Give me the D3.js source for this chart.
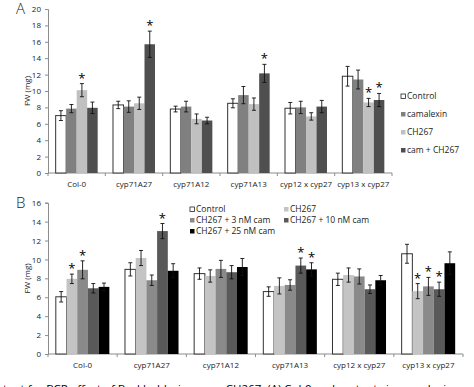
<!DOCTYPE html>
<meta charset="utf-8">
<style>
body { margin: 0; background: #fff; }
svg text { font-family: "Open Sans", "Liberation Sans", sans-serif; fill: #222; }
.axis path, .axis line { stroke: #8c8c8c; }
</style>
<svg width="474" height="387"></svg>
<script src="https://cdnjs.cloudflare.com/ajax/libs/d3/7.8.5/d3.min.js"></script>
<script>

// genotypes, same in both panels
var genotypes = ["Col-0", "cyp71A27", "cyp71A12", "cyp71A13", "cyp12 x cyp27", "cyp13 x cyp27"];

// panel A
var seriesA = ["Control", "camalexin", "CH267", "cam + CH267"];
var colorsA = ["#ffffff", "#808080", "#c0c0c0", "#4f4f4f"];
var valuesA = [
  [7.0, 8.3, 7.8, 8.5, 7.9, 11.8],
  [7.85, 8.1, 8.1, 9.5, 8.0, 11.4],
  [10.1, 8.5, 6.6, 8.4, 6.9, 8.6],
  [7.95, 15.7, 6.4, 12.15, 8.1, 8.9]
];
var errorsA = [
  [0.6, 0.45, 0.35, 0.55, 0.7, 1.2],
  [0.5, 0.7, 0.65, 1.05, 0.75, 1.15],
  [0.8, 0.75, 0.6, 0.75, 0.45, 0.5],
  [0.7, 1.6, 0.4, 1.1, 0.75, 0.8]
];
var starsA = [
  [0, 0, 0, 0, 0, 0],
  [0, 0, 0, 0, 0, 0],
  [1, 0, 0, 0, 0, 1],
  [0, 1, 0, 1, 0, 1]
];
var ticksA = [0, 2, 4, 6, 8, 10, 12, 14, 16, 18, 20];

// panel B
var seriesB = ["Control", "CH267", "CH267 + 3 nM cam", "CH267 + 10 nM cam", "CH267 + 25 nM cam"];
var colorsB = ["#ffffff", "#c4c4c4", "#8a8a8a", "#595959", "#000000"];
var valuesB = [
  [6.05, 8.95, 8.5, 6.6, 7.9, 10.6],
  [7.95, 10.15, 8.25, 7.2, 8.35, 6.65],
  [8.9, 7.8, 9.0, 7.3, 8.2, 7.15],
  [6.95, 13.0, 8.65, 9.35, 6.85, 6.85],
  [7.1, 8.8, 9.2, 8.95, 7.8, 9.6]
];
var errorsB = [
  [0.55, 0.7, 0.6, 0.5, 0.65, 1.0],
  [0.5, 0.8, 0.65, 0.85, 0.75, 0.8],
  [0.95, 0.55, 0.9, 0.55, 0.8, 0.95],
  [0.5, 0.8, 0.7, 0.8, 0.45, 0.75],
  [0.4, 0.75, 0.9, 0.7, 0.5, 1.2]
];
var starsB = [
  [0, 0, 0, 0, 0, 0],
  [1, 0, 0, 0, 0, 1],
  [1, 0, 0, 0, 0, 1],
  [0, 1, 0, 1, 0, 1],
  [0, 0, 0, 1, 0, 0]
];
var ticksB = [0, 2, 4, 6, 8, 10, 12, 14, 16];

var svg = d3.select("svg");

function panel(opt) {
  var g = svg.append("g");

  var x0 = d3.scaleBand().domain(genotypes).range([48, opt.right]);
  var x1 = d3.scaleBand().domain(opt.series).range([0, x0.bandwidth()]).paddingOuter(0.73);
  var y = d3.scaleLinear().domain(opt.domain).range([opt.bottom, opt.top]);

  // y axis
  g.append("g")
      .attr("class", "axis")
      .attr("transform", "translate(48,0)")
      .call(d3.axisLeft(y).tickValues(opt.ticks).tickSize(3).tickPadding(4))
    .call(function(a) {
      a.selectAll("text").style("font-size", "8px");
    });

  // x axis, ticks on category boundaries
  var xa = g.append("g")
      .attr("class", "axis")
      .attr("transform", "translate(0," + opt.bottom + ")");
  xa.append("line")
      .attr("x1", 48).attr("x2", opt.right);
  xa.selectAll("line.tk")
    .data(genotypes.concat([null]))
    .enter().append("line")
      .attr("class", "tk")
      .attr("x1", function(d, i) { return 48 + i * x0.step(); })
      .attr("x2", function(d, i) { return 48 + i * x0.step(); })
      .attr("y1", 0).attr("y2", 3);
  xa.selectAll("text")
    .data(genotypes)
    .enter().append("text")
      .attr("x", function(d) { return x0(d) + x0.bandwidth() / 2; })
      .attr("y", opt.labelDy)
      .attr("text-anchor", "middle")
      .style("font-size", "8px")
      .text(function(d) { return d; });

  // bars
  opt.series.forEach(function(s, si) {
    var sg = g.append("g");
    sg.selectAll("rect")
      .data(opt.values[si])
      .enter().append("rect")
        .attr("x", function(d, i) { return x0(genotypes[i]) + x1(s); })
        .attr("y", function(d) { return y(d); })
        .attr("width", x1.bandwidth())
        .attr("height", function(d) { return opt.bottom - y(d); })
        .attr("fill", opt.colors[si])
        .attr("stroke", si === 0 ? "#333" : "none")
        .attr("stroke-width", 1);

    // error bars
    opt.values[si].forEach(function(v, i) {
      var cx = x0(genotypes[i]) + x1(s) + x1.bandwidth() / 2;
      var e = opt.errors[si][i];
      var eg = sg.append("g").attr("stroke", "#111").attr("stroke-width", 0.9);
      eg.append("line").attr("x1", cx).attr("x2", cx).attr("y1", y(v - e)).attr("y2", y(v + e));
      eg.append("line").attr("x1", cx - 2).attr("x2", cx + 2).attr("y1", y(v - e)).attr("y2", y(v - e));
      eg.append("line").attr("x1", cx - 2).attr("x2", cx + 2).attr("y1", y(v + e)).attr("y2", y(v + e));
      if (opt.stars[si][i]) {
        sg.append("text")
          .attr("x", cx)
          .attr("y", y(v + e) - 1)
          .attr("text-anchor", "middle")
          .style("font-size", "13px")
          .style("fill", "#000")
          .text("*");
      }
    });
  });

  // y label
  g.append("text")
      .attr("transform", "translate(" + opt.ylabX + "," + y((opt.domain[0] + opt.domain[1]) / 2) + ") rotate(-90)")
      .attr("text-anchor", "middle")
      .style("font-size", "8px")
      .text("FW (mg)");

  // panel letter
  g.append("text")
      .attr("x", 16)
      .attr("y", opt.top + 5)
      .style("font-size", "15px")
      .style("font-weight", "300")
      .text(opt.letter);

  // legend
  var lg = g.append("g");
  opt.series.forEach(function(s, si) {
    var p = opt.legendPos[si];
    lg.append("rect")
      .attr("x", p[0]).attr("y", p[1] - 5)
      .attr("width", 4.5).attr("height", 4.5)
      .attr("fill", opt.colors[si])
      .attr("stroke", si === 0 ? "#222" : "none")
      .attr("stroke-width", 0.8);
    lg.append("text")
      .attr("x", p[0] + 6).attr("y", p[1])
      .style("font-size", "8.5px")
      .text(s);
  });
}

panel({
  letter: "A", series: seriesA, colors: colorsA, values: valuesA, errors: errorsA, stars: starsA,
  ticks: ticksA, domain: [0, 20], top: 9, bottom: 173, right: 392, labelDy: 14, ylabX: 30,
  legendPos: [[401, 99], [401, 117], [401, 135], [401, 153]]
});

panel({
  letter: "B", series: seriesB, colors: colorsB, values: valuesB, errors: errorsB, stars: starsB,
  ticks: ticksB, domain: [0, 16], top: 202.7, bottom: 354, right: 463, labelDy: 14, ylabX: 30,
  legendPos: [[190, 212], [284, 212], [190, 223], [284, 223], [190, 234]]
});

// caption line cut off at the bottom of the picture
svg.append("text")
    .attr("x", -4)
    .attr("y", 393)
    .style("font-size", "11.5px")
    .style("fill", "#000")
    .text("ntant for BCP effect of Burkholderia sp. on CH267. (A) Col-0 and mutants in camalexin synthesis were assayed");

</script>
